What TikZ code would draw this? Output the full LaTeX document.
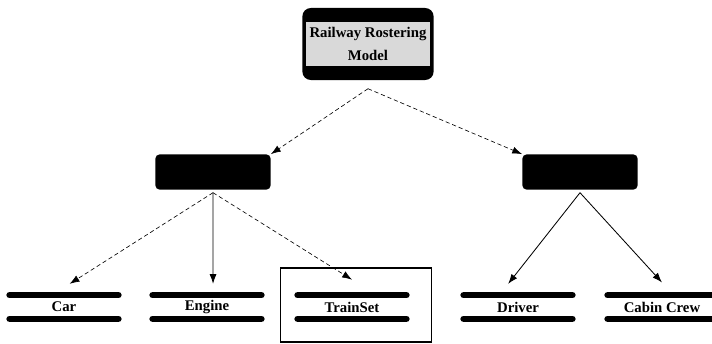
\documentclass[tikz,border=0pt]{standalone}
\usepackage{fontspec}
\setmainfont{Liberation Serif}
\usetikzlibrary{arrows.meta}

\tikzset{
  rootbox/.style={shape=rectangle, fill=black, rounded corners=6pt,
    minimum width=3.28cm, minimum height=1.8cm},
  titleband/.style={shape=rectangle, fill=gray!30, align=center,
    minimum width=3.1cm, minimum height=1.1cm, inner sep=1pt},
  groupbox/.style={shape=rectangle, fill=black, rounded corners=3pt,
    minimum width=2.88cm, minimum height=0.88cm},
  leafbox/.style={shape=rectangle, fill=white, inner sep=0pt,
    minimum width=2.7cm, minimum height=0.58cm},
  bar/.style={line width=4.8pt, line cap=round},
  framebox/.style={shape=rectangle, draw=black, line width=0.9pt,
    minimum width=3.78cm, minimum height=1.85cm},
  link/.style={-{Latex[length=7pt,width=5pt]}, line width=0.6pt},
  weaklink/.style={link, line width=0.45pt, densely dashed},
}

\begin{document}
\begin{tikzpicture}[x=0.025cm, y=-0.025cm, font=\bfseries\fontsize{10.5}{16}\selectfont]
        \useasboundingbox (0,0) rectangle (712,343);

        \node[rootbox] (root) at (368,44) {};
        \node[titleband] (title) at (368,44) {Railway Rostering\\Model};

        \node[groupbox] (stock) at (213,172) {};
        \node[groupbox] (staff) at (580,172) {};

        \node[framebox] (focus) at (356,305) {};

        \node[leafbox] (car) at (64,307) {Car};
        \node[leafbox] (engine) at (207,307) {Engine};
        \node[leafbox] (trainset) at (352,307) {TrainSet};
        \node[leafbox] (driver) at (518,307) {Driver};
        \node[leafbox] (cabin) at (662,307) {Cabin Crew};

        % thick top and bottom strips on the leaves
        \foreach \n in {car,engine,trainset,driver,cabin}{
          \draw[bar] (\n.north west) -- (\n.north east);
          \draw[bar] (\n.south west) -- (\n.south east);
        }

        \path[weaklink]
        ([yshift=-6pt]root.south) edge (stock.north east)
        ([yshift=-6pt]root.south) edge (staff.north west)
        ([yshift=-2pt]stock.south) edge ([xshift=4pt,yshift=8pt]car.north)
        ([yshift=-2pt]stock.south) edge ([yshift=11pt]trainset.north)
        ;

        \path[link]
        ([yshift=-2pt]stock.south) edge ([xshift=4.3pt,yshift=8pt]engine.north)
        ([yshift=-2pt]staff.south) edge ([xshift=-7pt,yshift=8pt]driver.north)
        ([yshift=-2pt]staff.south) edge ([yshift=9pt]cabin.north)
        ;
\end{tikzpicture}
\end{document}
